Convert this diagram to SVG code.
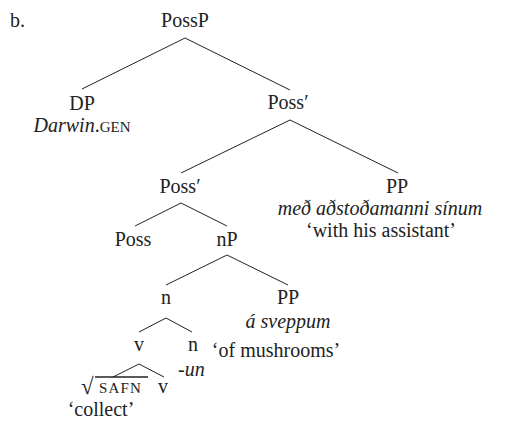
<svg xmlns="http://www.w3.org/2000/svg" width="515" height="422" viewBox="0 0 515 422">
<defs>
<style>
text{font-family:"Liberation Serif","Times New Roman",serif;font-size:20px;fill:#222;text-anchor:middle}
.i{font-style:italic}
.sc{font-size:15px}
.l{text-anchor:start}
line{stroke:#222;stroke-width:1}
</style>
</defs>
<rect width="515" height="422" fill="#fff"/>
<g id="connectors">
<line x1="185" y1="38" x2="82" y2="89"/>
<line x1="185" y1="38" x2="290" y2="90"/>
<line x1="290" y1="120" x2="181" y2="173"/>
<line x1="290" y1="120" x2="398" y2="173"/>
<line x1="181" y1="203" x2="135" y2="226"/>
<line x1="181" y1="203" x2="227" y2="226"/>
<line x1="227" y1="255" x2="166" y2="285"/>
<line x1="227" y1="255" x2="288" y2="285"/>
<line x1="166" y1="318" x2="139" y2="332"/>
<line x1="166" y1="318" x2="192" y2="332"/>
<line x1="139" y1="364" x2="113" y2="377"/>
<line x1="139" y1="364" x2="164" y2="377"/>
</g>
<g id="label-b"><text class="l" x="10" y="27">b.</text></g>
<g id="n-PossP"><text x="185" y="27">PossP</text></g>
<g id="n-DP"><text x="82" y="110">DP</text><text x="82" y="132"><tspan class="i">Darwin</tspan>.<tspan class="sc">GEN</tspan></text></g>
<g id="n-Possbar1"><text x="288" y="109">Poss′</text></g>
<g id="n-Possbar2"><text x="180" y="193">Poss′</text></g>
<g id="n-PP1"><text x="397" y="193">PP</text><text class="i" x="380" y="215">með aðstoðamanni sínum</text><text x="381" y="237">‘with his assistant’</text></g>
<g id="n-Poss"><text x="133" y="246">Poss</text></g>
<g id="n-nP"><text x="227" y="246">nP</text></g>
<g id="n-n1"><text x="166" y="304">n</text></g>
<g id="n-PP2"><text x="288" y="304">PP</text><text class="i" x="288" y="328">á sveppum</text><text x="276" y="357">‘of mushrooms’</text></g>
<g id="n-v1"><text x="139" y="351">v</text></g>
<g id="n-n2"><text x="193" y="351">n</text><text class="i l" x="178" y="376">-un</text></g>
<g id="n-root"><text class="l" x="81" y="394" style="font-size:23px">√</text><line x1="95" y1="377" x2="148" y2="377" style="stroke-width:1.6"/><text class="sc l" x="99" y="393" style="letter-spacing:1.2px">SAFN</text><text x="101" y="416">‘collect’</text></g>
<g id="n-v2"><text x="163" y="393">v</text></g>
</svg>
